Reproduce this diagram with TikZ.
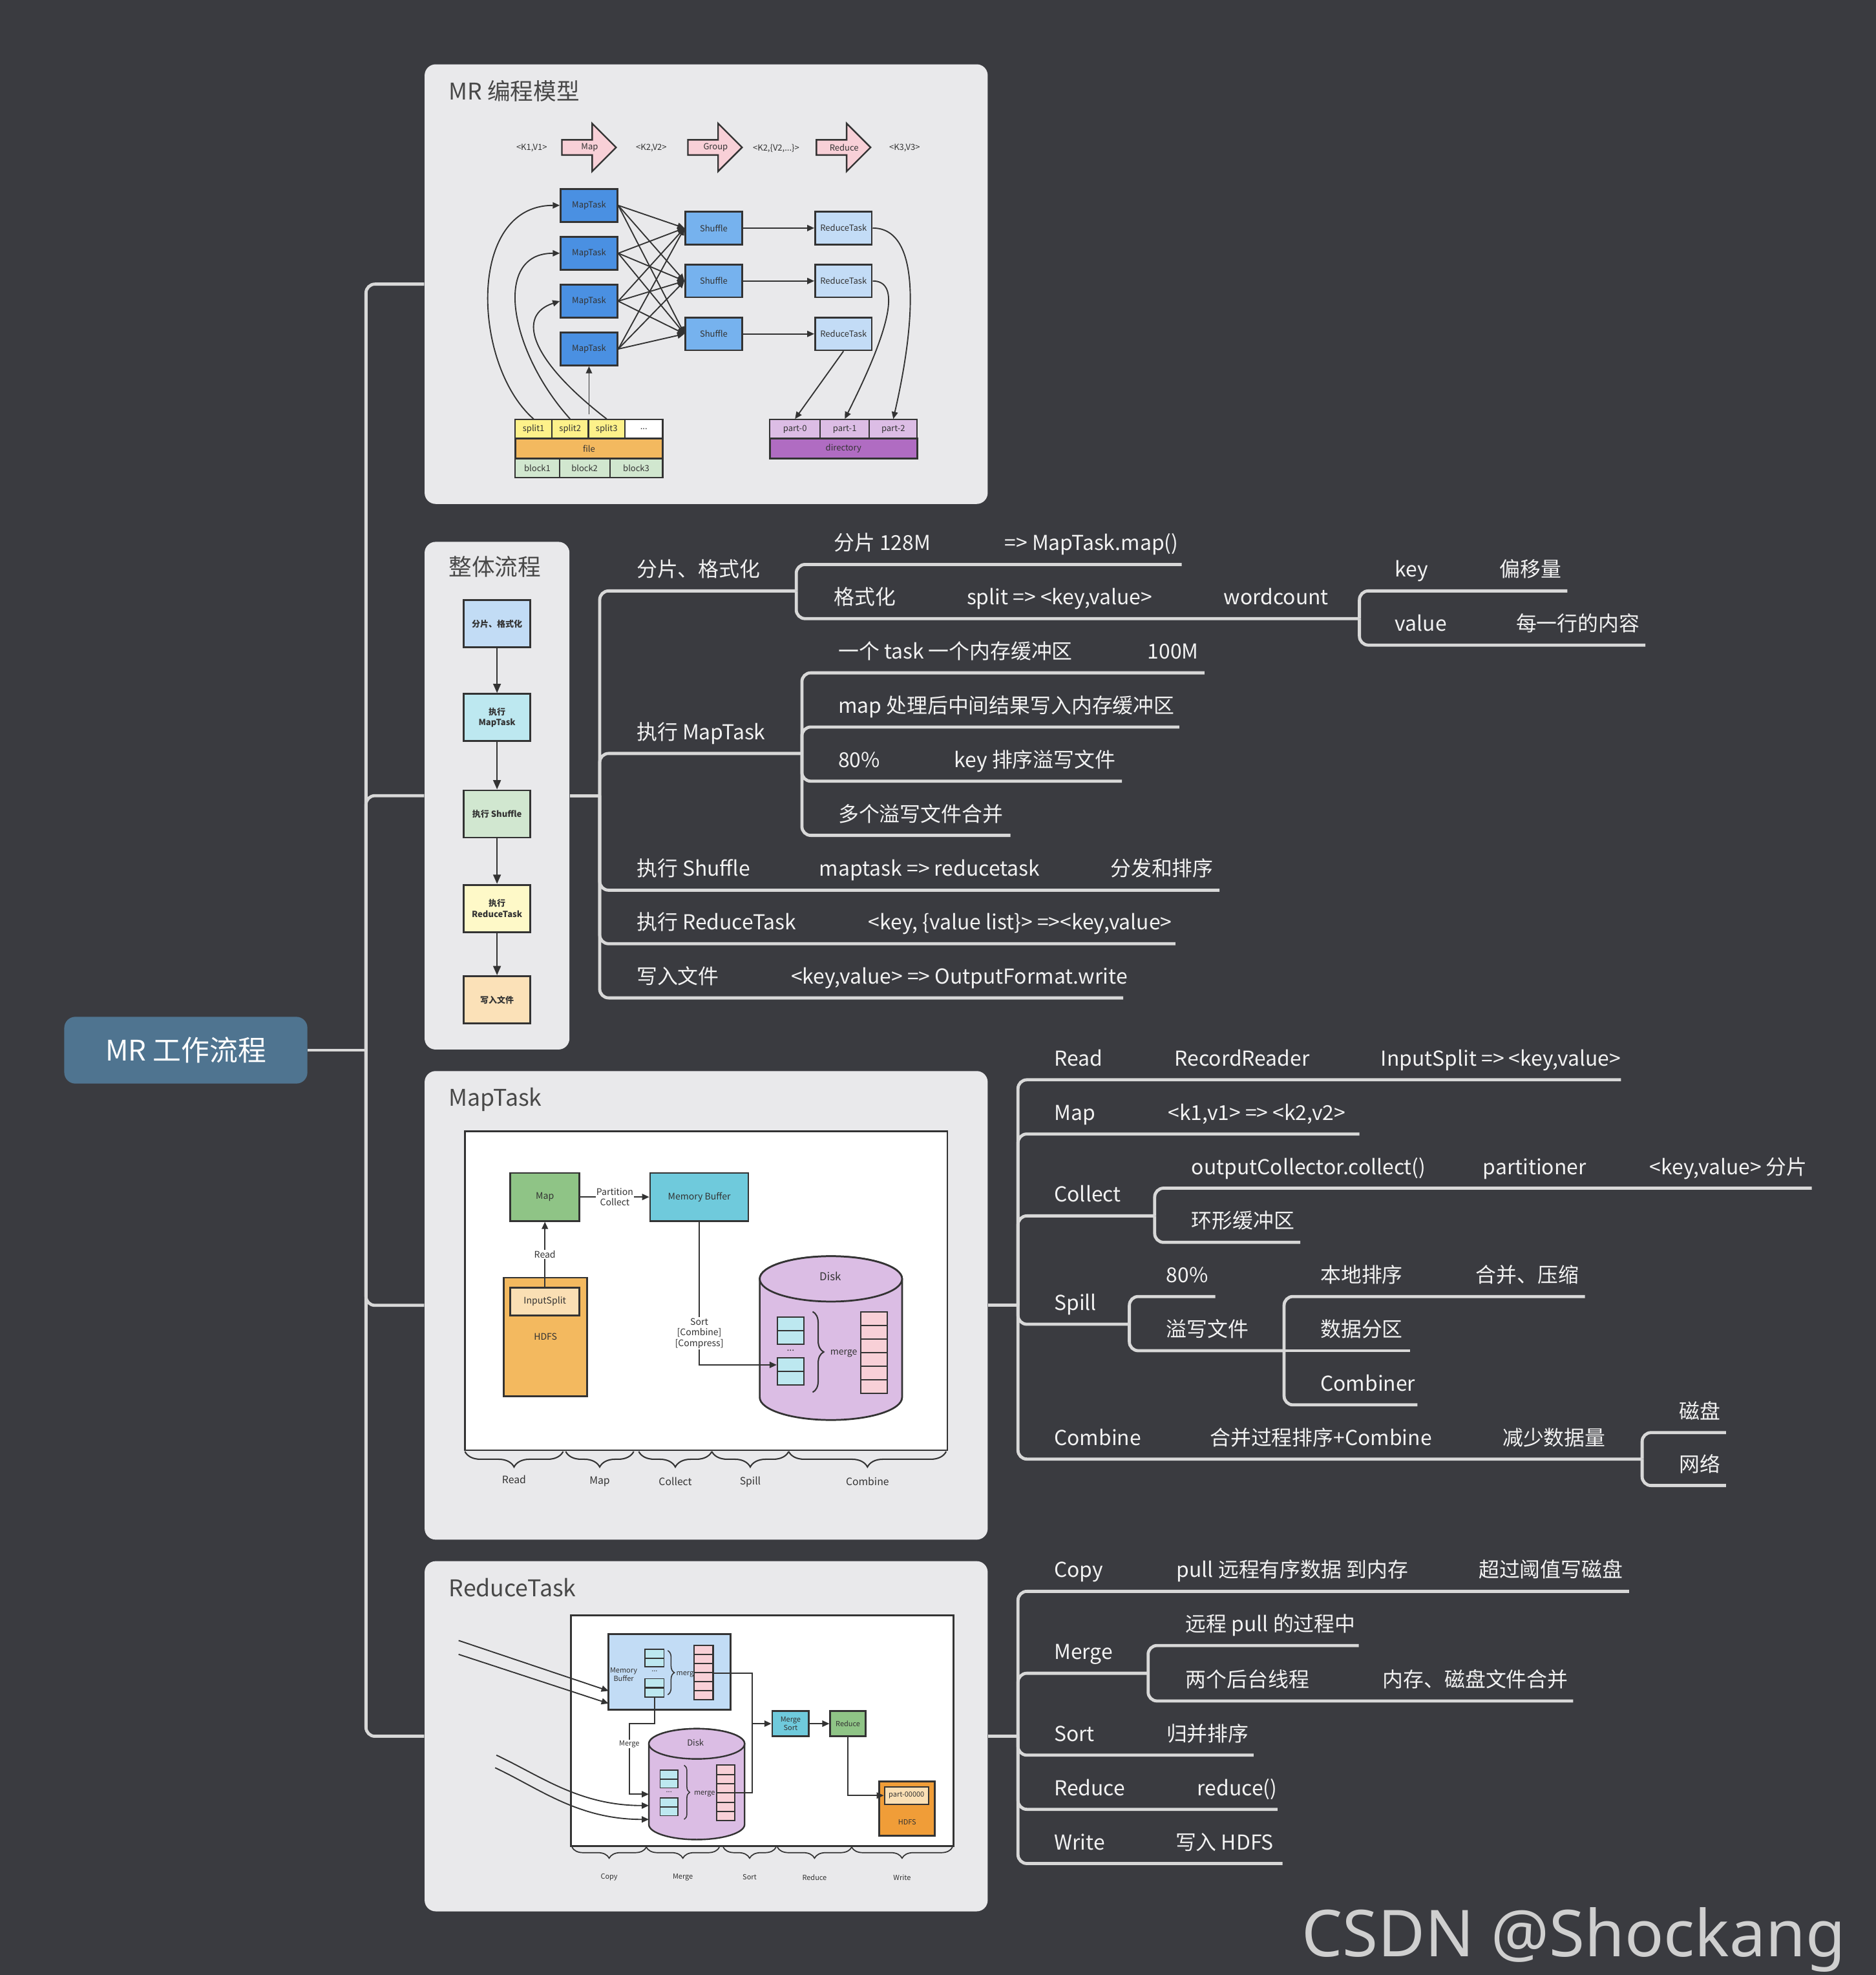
\documentclass[tikz,border=0pt]{standalone}
\usepackage{fontspec}
\setmainfont{Noto Sans CJK SC}
\newfontfamily\wmfont{Noto Sans}
\usetikzlibrary{arrows.meta,decorations.pathreplacing}

\definecolor{bgc}{HTML}{3A3B40}
\definecolor{panelc}{HTML}{E9E9EB}
\definecolor{mmgray}{HTML}{D8D8D8}
\definecolor{mmwhite}{HTML}{F2F2F2}
\definecolor{rootc}{HTML}{4F7490}
\definecolor{titlec}{HTML}{484848}
\definecolor{ink}{HTML}{333333}
\definecolor{mtc}{HTML}{4A90E2}
\definecolor{shc}{HTML}{76B2EE}
\definecolor{rtc}{HTML}{C3DCF6}
\definecolor{pinkc}{HTML}{F8D0D7}
\definecolor{splitc}{HTML}{FDF18A}
\definecolor{filec}{HTML}{F3B95F}
\definecolor{blockc}{HTML}{D1E7CF}
\definecolor{partc}{HTML}{DCBDE5}
\definecolor{dirc}{HTML}{B06CC2}
\definecolor{mapc}{HTML}{8FC486}
\definecolor{cyanc}{HTML}{6FCADC}
\definecolor{splc}{HTML}{FADFB4}
\definecolor{diskc}{HTML}{DBBDE4}
\definecolor{cellc}{HTML}{BDE8F0}
\definecolor{lbluec}{HTML}{C2DCF5}
\definecolor{orangec}{HTML}{F09D38}
\definecolor{fyelc}{HTML}{FEF9C8}
\definecolor{fgrnc}{HTML}{D1E7D0}
\definecolor{forgc}{HTML}{FBE1B8}
\definecolor{wmc}{HTML}{CFCFCF}

\tikzset{
  mmline/.style={draw=mmgray, line width=1.4pt, rounded corners=4pt},
  mmtext/.style={anchor=base west, inner sep=0pt, text=mmwhite, font=\fontsize{9.3}{11}\selectfont},
  panel/.style={fill=panelc, rounded corners=5pt, inner sep=0pt},
  ptitle/.style={anchor=base west, inner sep=0pt, text=titlec, font=\fontsize{10.4}{12}\selectfont},
  box/.style={draw=ink, line width=0.8pt, inner sep=0pt, text=ink},
  lbl/.style={inner sep=0pt, text=ink, font=\fontsize{3.8}{4.6}\selectfont},
  lblf/.style={inner sep=0pt, text=ink, align=center, font=\bfseries\fontsize{3.8}{4.8}\selectfont},
  lblm/.style={inner sep=0.4pt, text=ink, align=center, font=\fontsize{4.1}{4.9}\selectfont},
  lbls/.style={inner sep=0.3pt, text=ink, align=center, font=\fontsize{3.2}{3.9}\selectfont},
  arr/.style={draw=ink, line width=0.55pt, -{Triangle[length=3.2pt,width=2.8pt]}},
  curly/.style={draw=ink, line width=0.6pt, decorate, decoration={brace, amplitude=#1}},
  curlyd/.style={draw=ink, line width=0.6pt, decorate, decoration={brace, mirror, amplitude=#1}},
}

\begin{document}
\begin{tikzpicture}[x=0.02cm, y=-0.02cm]
\fill[bgc] (0,0) rectangle (1489,1567.5);
\useasboundingbox (0,0) rectangle (1489,1567.5);

% panels
\node[panel, minimum width=8.94cm, minimum height=6.98cm] (pnModel) at (560.5,225.5) {};
\node[panel, minimum width=2.30cm, minimum height=8.06cm] (pnFlow) at (394.5,631.5) {};
\node[panel, minimum width=8.94cm, minimum height=7.44cm] (pnMap) at (560.5,1036) {};
\node[panel, minimum width=8.94cm, minimum height=5.56cm] (pnReduce) at (560.5,1378) {};
\node[ptitle] (tModel) at (356,79) {MR 编程模型};
\node[ptitle] (tFlow) at (356,457) {整体流程};
\node[ptitle] (tMap) at (356,878) {MapTask};
\node[ptitle] (tReduce) at (356,1267) {ReduceTask};

% root
\node[fill=rootc, rounded corners=5pt, minimum width=3.86cm, minimum height=1.06cm, text=white, font=\fontsize{12.8}{15}\selectfont] (root) at (147.5,833.5) {MR 工作流程};
\coordinate (jR) at (290.5,833.5);
\draw[mmline] (root.east) -- (jR);
\foreach \p in {pnModel,pnFlow,pnMap,pnReduce} \draw[mmline] (jR) |- (\p.west);

% ---- MR 编程模型
\foreach \x/\t in {446/Map, 546/Group, 648/Reduce} {
  \filldraw[fill=pinkc, draw=ink, line width=0.7pt] (\x,111) -- ++(24,0) -- ++(0,-13) -- ++(19,19) -- ++(-19,19) -- ++(0,-13) -- ++(-24,0) -- cycle;
  \node[lbl] (op\t) at (\x+22,117) {\t};
}
\node[lbl] (kv1) at (422,117.5) {<K1,V1>};
\node[lbl] (kv2) at (517,117.5) {<K2,V2>};
\node[lbl] (kv3) at (616,117.5) {<K2,\{V2,...\}>};
\node[lbl] (kv4) at (718,117.5) {<K3,V3>};

\foreach \i/\y in {1/163,2/201,3/239,4/277}
  \node[box, fill=mtc, minimum width=0.9cm, minimum height=0.52cm, lbl] (mt\i) at (467.5,\y) {MapTask};
\foreach \j/\y in {1/181,2/223,3/265} {
  \node[box, fill=shc, minimum width=0.9cm, minimum height=0.52cm, lbl] (sh\j) at (566.5,\y) {Shuffle};
  \node[box, fill=rtc, minimum width=0.9cm, minimum height=0.52cm, lbl] (rt\j) at (669.5,\y) {ReduceTask};
  \draw[arr] (sh\j) -- (rt\j);
}
\foreach \i in {1,...,4} \foreach \j in {1,2,3} \draw[arr] (mt\i.east) -- (sh\j.west);

\foreach \n/\x/\t in {s1/423.5/split1, s2/452.5/split2, s3/481.5/split3}
  \node[box, line width=0.6pt, fill=splitc, minimum width=0.58cm, minimum height=0.3cm, lbl] (\n) at (\x,340.5) {\t};
\node[box, line width=0.6pt, fill=white, minimum width=0.6cm, minimum height=0.3cm, lbl] (s4) at (511,340.5) {...};
\node[box, fill=filec, minimum width=2.34cm, minimum height=0.32cm, lbl] (file) at (467.5,356) {file};
\node[box, line width=0.6pt, fill=blockc, minimum width=0.7cm, minimum height=0.3cm, lbl] (b1) at (426.5,371.5) {block1};
\node[box, line width=0.6pt, fill=blockc, minimum width=0.8cm, minimum height=0.3cm, lbl] (b2) at (464,371.5) {block2};
\node[box, line width=0.6pt, fill=blockc, minimum width=0.84cm, minimum height=0.3cm, lbl] (b3) at (505,371.5) {block3};

\node[box, line width=0.6pt, fill=partc, minimum width=0.8cm, minimum height=0.3cm, lbl] (part0) at (631,340.5) {part-0};
\node[box, line width=0.6pt, fill=partc, minimum width=0.78cm, minimum height=0.3cm, lbl] (part1) at (670.5,340.5) {part-1};
\node[box, line width=0.6pt, fill=partc, minimum width=0.76cm, minimum height=0.3cm, lbl] (part2) at (709,340.5) {part-2};
\node[box, fill=dirc, minimum width=2.34cm, minimum height=0.32cm, lbl] (dir) at (669.5,356) {directory};

\coordinate (fup) at (467.5,329);
\draw[arr] (s1.north) .. controls (375,290) and (370,163) .. (mt1.west);
\draw[arr] (s2.north) .. controls (405,280) and (390,201) .. (mt2.west);
\draw[arr] (s3.north) .. controls (420,285) and (410,250) .. (mt3.west);
\draw[arr] (fup) -- (mt4.south);
\draw[arr] (rt3.south) -- (part0.north);
\draw[arr] (rt2.east) .. controls (712,223) and (712,250) .. (part1.north);
\draw[arr] (rt1.east) .. controls (730,181) and (728,250) .. (part2.north);

% ---- 整体流程
\node[box, fill=lbluec, minimum width=1.06cm, minimum height=0.75cm, lblf] (fc1) at (394.5,495) {分片、格式化};
\node[box, fill=cellc, minimum width=1.06cm, minimum height=0.75cm, lblf] (fc2) at (394.5,569.5) {执行\\MapTask};
\node[box, fill=fgrnc, minimum width=1.06cm, minimum height=0.75cm, lblf] (fc3) at (394.5,646) {执行 Shuffle};
\node[box, fill=fyelc, minimum width=1.06cm, minimum height=0.75cm, lblf] (fc4) at (394.5,721) {执行\\ReduceTask};
\node[box, fill=forgc, minimum width=1.06cm, minimum height=0.75cm, lblf] (fc5) at (394.5,793.5) {写入文件};
\foreach \a/\b in {fc1/fc2,fc2/fc3,fc3/fc4,fc4/fc5}
  \draw[arr, line width=0.8pt, -{Triangle[length=4.2pt,width=3.4pt]}] (\a) -- (\b);

% ---- MapTask
\filldraw[fill=white, draw=ink, line width=0.8pt] (369,898) rectangle (752,1151);
\node[box, fill=mapc, minimum width=1.1cm, minimum height=0.76cm, lblm] (mmap) at (432.5,950) {Map};
\node[box, fill=cyanc, minimum width=1.56cm, minimum height=0.76cm, lblm] (mbuf) at (555,950) {Memory Buffer};
\node[box, fill=filec, minimum width=1.32cm, minimum height=1.88cm, lblm] (mhdfs) at (433,1061) {HDFS};
\node[box, fill=splc, minimum width=1.1cm, minimum height=0.44cm, lblm] (insp) at (432.5,1033) {InputSplit};
\draw[arr] (insp.north) -- node[midway, fill=white, lblm] (rdLbl) {Read} (mmap.south);
\draw[arr] (mmap.east) -- node[midway, fill=white, lblm] (pcLbl) {Partition\\Collect} (mbuf.west);

\filldraw[fill=diskc, draw=ink, line width=0.8pt] (603,1015) -- (603,1109) arc[start angle=180, end angle=0, x radius=56.5, y radius=18] -- (716,1015) arc[start angle=0, end angle=-180, x radius=56.5, y radius=18] -- cycle;
\filldraw[fill=diskc, draw=ink, line width=0.8pt] (659.5,1015) ellipse [x radius=56.5, y radius=18];
\node[lbl, font=\fontsize{4.9}{6}\selectfont] (dkLbl) at (659,1013) {Disk};
\foreach \n/\y in {dc1/1050.5, dc2/1061.5, dc3/1083.25, dc4/1093.75}
  \node[box, line width=0.6pt, fill=cellc, minimum width=0.42cm, minimum height=0.215cm] (\n) at (627.5,\y) {};
\node[lblm] (dcDots) at (627.5,1072) {...};
\foreach \k in {0,...,5} \filldraw[fill=pinkc, draw=ink, line width=0.6pt] (683,1041+\k*10.83) rectangle +(21,10.83);
\draw[curly=5pt] (645,1041) -- (645,1105);
\node[lblm, anchor=west] (dkMerge) at (658,1074) {merge};
\draw[arr] (mbuf.south) |- node[pos=0.39, fill=white, lblm] (sortLbl) {Sort\\{[Combine]}\\{[Compress]}} (dc3.west);

\foreach \a/\b/\t/\y in {369/447/Read/1174, 449/503/Map/1176, 507/565/Collect/1176, 565/626/Spill/1176, 626/751/Combine/1176} {
  \draw[curlyd=7pt] (\a,1152) -- (\b,1152);
  \node[lbl, font=\fontsize{4.6}{5.5}\selectfont] (br\t) at ({(\a+\b)/2},\y) {\t};
}

% ---- ReduceTask
\filldraw[fill=white, draw=ink, line width=0.8pt] (453,1282) rectangle (757,1465);
\node[box, fill=lbluec, minimum width=1.94cm, minimum height=1.2cm] (rbuf) at (531.5,1327) {};
\node[lbls] (rbufLbl) at (495,1329) {Memory\\Buffer};
\foreach \n/\y in {rc1/1312.5, rc2/1319.5, rc3/1335.75, rc4/1343.25}
  \node[box, line width=0.5pt, fill=cellc, minimum width=0.3cm, minimum height=0.14cm] (\n) at (519.5,\y) {};
\node[lbls] (rcDots) at (519.5,1326.5) {...};
\draw[curly=3pt, line width=0.45pt] (530,1310) -- (530,1345);
\node[lbls, anchor=west] (rcMerge) at (536,1329) {merge};
\foreach \k in {0,...,5} \filldraw[fill=pinkc, draw=ink, line width=0.6pt] (551,1306+\k*7.17) rectangle +(15,7.17);

\filldraw[fill=diskc, draw=ink, line width=0.7pt] (515,1384) -- (515,1448) arc[start angle=180, end angle=0, x radius=38, y radius=12] -- (591,1384) arc[start angle=0, end angle=-180, x radius=38, y radius=12] -- cycle;
\filldraw[fill=diskc, draw=ink, line width=0.7pt] (553,1384) ellipse [x radius=38, y radius=12];
\node[lbls, font=\fontsize{3.8}{4.5}\selectfont] (rdLbl2) at (552,1383) {Disk};
\foreach \n/\y in {dd1/1408.5, dd2/1415.5, dd3/1430.5, dd4/1437.5}
  \node[box, line width=0.5pt, fill=cellc, minimum width=0.28cm, minimum height=0.14cm] (\n) at (531,\y) {};
\node[lbls] (ddDots) at (531,1422.5) {...};
\draw[curly=2.5pt, line width=0.45pt] (543,1401) -- (543,1444);
\node[lbls, anchor=west] (ddMerge) at (550,1424) {merge};
\foreach \k in {0,...,5} \filldraw[fill=pinkc, draw=ink, line width=0.6pt] (569,1401+\k*7.33) rectangle +(14,7.33);

\node[box, fill=cyanc, minimum width=0.58cm, minimum height=0.4cm, lbls] (msort) at (627.5,1368) {Merge\\Sort};
\node[box, fill=mapc, minimum width=0.56cm, minimum height=0.4cm, lbls] (rred) at (673,1368) {Reduce};
\node[box, fill=orangec, minimum width=0.88cm, minimum height=0.86cm] (rhdfs) at (720,1435.5) {};
\node[box, line width=0.6pt, fill=splc, minimum width=0.7cm, minimum height=0.28cm, lbls] (rpart) at (719.5,1425) {part-00000};
\node[lbls] (rhdfsLbl) at (720,1446) {HDFS};

\coordinate (rpk) at (566,1328);
\coordinate (dpk) at (583,1423);
\coordinate (rjn) at (597,1368);
\coordinate (dkin) at (515,1424);
\draw[ink, line width=0.55pt] (rpk) -- (597,1328) -- (597,1423) -- (dpk);
\draw[arr] (rjn) -- (msort.west);
\draw[arr] (msort) -- (rred);
\draw[arr] (rred.south) |- (rpart.west);
\draw[arr] (rc4.south) |- (499.5,1368) -- node[pos=0.29, fill=white, lbls] (mgLbl) {Merge} (499.5,1424) -- (dkin);

\coordinate (in1) at (364,1302);
\coordinate (in2) at (364,1313);
\coordinate (in3) at (394,1393);
\coordinate (in4) at (393,1403);
\draw[arr] (in1) -- (483,1342);
\draw[arr] (in2) -- (483,1352);
\draw[arr] (in3) .. controls (430,1410) and (460,1433) .. (515,1433);
\draw[arr] (in4) .. controls (429,1420) and (459,1444) .. (515,1444);

\foreach \a/\b/\t in {454/513/Copy, 513/571/Merge, 574/616/Sort, 617/676/Reduce, 676/756/Write} {
  \draw[curlyd=5pt, line width=0.5pt] (\a,1466) -- (\b,1466);
  \node[lbls] (rb\t) at ({(\a+\b)/2},1490) {\t};
}

% ---- tree: 整体流程
\coordinate (jA) at (476,631.5);
\draw[mmline] (pnFlow.east) -- (jA);
\draw[mmline] (jA) |- (632,469) coordinate (jA1);
\draw[mmline] (jA1) |- (938,448);
\draw[mmline] (jA1) |- (1079,491) coordinate (jA2);
\draw[mmline] (jA2) |- (1244,469);
\draw[mmline] (jA2) |- (1306,512);
\draw[mmline] (jA) |- (636.5,598) coordinate (jA3);
\foreach \y/\e in {534/956, 577/936, 620/890.5, 663/802} \draw[mmline] (jA3) |- (\e,\y);
\foreach \y/\e in {706.5/968, 749/933, 792/891.5} \draw[mmline] (jA) |- (\e,\y);

\node[mmtext] (a1) at (505,458) {分片、格式化};
\node[mmtext] (a1a) at (661.5,437) {分片 128M};
\node[mmtext] (a1b) at (797,437) {=> MapTask.map()};
\node[mmtext] (a2a) at (661.5,480) {格式化};
\node[mmtext] (a2b) at (767,480) {split => <key,value>};
\node[mmtext] (a2c) at (971,480) {wordcount};
\node[mmtext] (a3a) at (1107,458) {key};
\node[mmtext] (a3b) at (1190,458) {偏移量};
\node[mmtext] (a4a) at (1107,501) {value};
\node[mmtext] (a4b) at (1203,501) {每一行的内容};
\node[mmtext] (a5) at (505,587) {执行 MapTask};
\node[mmtext] (a5a) at (665,523) {一个 task 一个内存缓冲区};
\node[mmtext] (a5b) at (910.5,523) {100M};
\node[mmtext] (a6) at (665,566) {map 处理后中间结果写入内存缓冲区};
\node[mmtext] (a7a) at (665,609) {80\%};
\node[mmtext] (a7b) at (757,609) {key 排序溢写文件};
\node[mmtext] (a8) at (665,652) {多个溢写文件合并};
\node[mmtext] (a9a) at (505,695.5) {执行 Shuffle};
\node[mmtext] (a9b) at (650,695.5) {maptask => reducetask};
\node[mmtext] (a9c) at (881,695.5) {分发和排序};
\node[mmtext] (a10a) at (505,738) {执行 ReduceTask};
\node[mmtext] (a10b) at (689,738) {<key, \{value list\}> =><key,value>};
\node[mmtext] (a11a) at (505,781) {写入文件};
\node[mmtext] (a11b) at (627.5,781) {<key,value> => OutputFormat.write};

% ---- tree: MapTask
\coordinate (jB) at (808,1036);
\draw[mmline] (pnMap.east) -- (jB);
\draw[mmline] (jB) |- (1286.6,857);
\draw[mmline] (jB) |- (1079,900);
\draw[mmline] (jB) |- (916.5,965) coordinate (jB1);
\draw[mmline] (jB1) |- (1438,943);
\draw[mmline] (jB1) |- (1032,986);
\draw[mmline] (jB) |- (896.4,1051) coordinate (jB2);
\draw[mmline] (jB2) |- (964.6,1029);
\draw[mmline] (jB2) |- (1019.2,1072) coordinate (jB3);
\draw[mmline] (jB3) |- (1258,1029);
\draw[mmline] (jB3) -- (1119,1072);
\draw[mmline] (jB3) |- (1125,1115);
\draw[mmline] (jB) |- (1303.4,1158) coordinate (jB4);
\draw[mmline] (jB4) |- (1370,1137);
\draw[mmline] (jB4) |- (1370,1179);

\node[mmtext] (b1a) at (836.4,846) {Read};
\node[mmtext] (b1b) at (932,846) {RecordReader};
\node[mmtext] (b1c) at (1095.7,846) {InputSplit => <key,value>};
\node[mmtext] (b2a) at (836.4,889) {Map};
\node[mmtext] (b2b) at (926.7,889) {<k1,v1> => <k2,v2>};
\node[mmtext] (b3) at (836.4,954) {Collect};
\node[mmtext] (b3a) at (945.4,932) {outputCollector.collect()};
\node[mmtext] (b3b) at (1176.7,932) {partitioner};
\node[mmtext] (b3c) at (1309,932) {<key,value> 分片};
\node[mmtext] (b3d) at (945.4,975) {环形缓冲区};
\node[mmtext] (b4) at (836.4,1040) {Spill};
\node[mmtext] (b4a) at (925.4,1018) {80\%};
\node[mmtext] (b4b) at (925.4,1061) {溢写文件};
\node[mmtext] (b4c) at (1047.7,1018) {本地排序};
\node[mmtext] (b4d) at (1171,1018) {合并、压缩};
\node[mmtext] (b4e) at (1047.7,1061) {数据分区};
\node[mmtext] (b4f) at (1047.7,1104) {Combiner};
\node[mmtext] (b5a) at (836.4,1147) {Combine};
\node[mmtext] (b5b) at (960,1147) {合并过程排序+Combine};
\node[mmtext] (b5c) at (1192.3,1147) {减少数据量};
\node[mmtext] (b5d) at (1332.4,1126) {磁盘};
\node[mmtext] (b5e) at (1332.4,1168) {网络};

% ---- tree: ReduceTask
\coordinate (jC) at (808,1378);
\draw[mmline] (pnReduce.east) -- (jC);
\draw[mmline] (jC) |- (1293,1263);
\draw[mmline] (jC) |- (911.3,1328) coordinate (jC1);
\draw[mmline] (jC1) |- (1078.5,1306);
\draw[mmline] (jC1) |- (1248.6,1350);
\foreach \y/\e in {1393/995, 1436/1014, 1479/1018} \draw[mmline] (jC) |- (\e,\y);

\node[mmtext] (c1a) at (836.4,1252) {Copy};
\node[mmtext] (c1b) at (933.6,1252) {pull 远程有序数据 到内存};
\node[mmtext] (c1c) at (1173.3,1252) {超过阈值写磁盘};
\node[mmtext] (c2) at (836.4,1317) {Merge};
\node[mmtext] (c2a) at (940.8,1295) {远程 pull 的过程中};
\node[mmtext] (c2b) at (940.8,1339) {两个后台线程};
\node[mmtext] (c2c) at (1097.2,1339) {内存、磁盘文件合并};
\node[mmtext] (c3a) at (836.4,1382) {Sort};
\node[mmtext] (c3b) at (925.5,1382) {归并排序};
\node[mmtext] (c4a) at (836.4,1425) {Reduce};
\node[mmtext] (c4b) at (950,1425) {reduce()};
\node[mmtext] (c5a) at (836.4,1468) {Write};
\node[mmtext] (c5b) at (932.7,1468) {写入 HDFS};

% watermark
\node[anchor=base west, inner sep=0pt, text=wmc, font=\wmfont\fontsize{29.2}{34}\selectfont] (wm) at (1033,1553) {CSDN @Shockang};
\end{tikzpicture}
\end{document}
